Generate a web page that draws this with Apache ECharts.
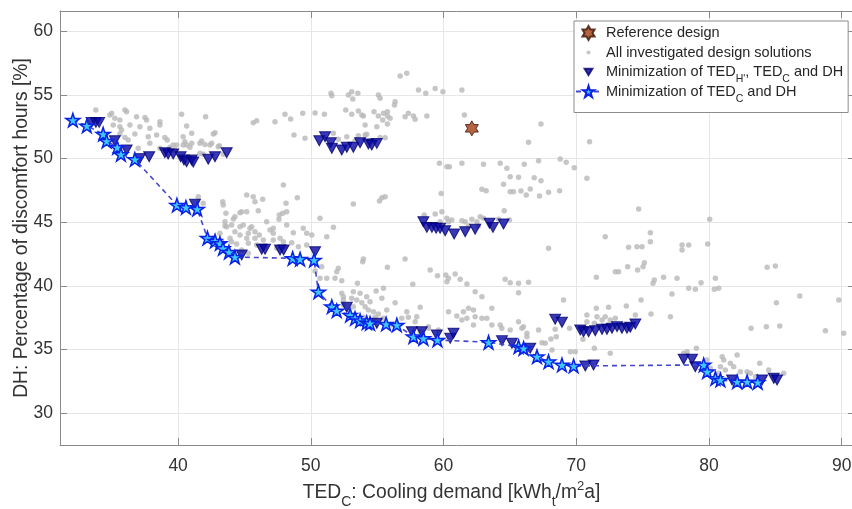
<!DOCTYPE html>
<html><head><meta charset="utf-8">
<script src="https://cdn.jsdelivr.net/npm/echarts@6/dist/echarts.min.js"></script>
<style>html,body{margin:0;padding:0;background:#fff}#c{width:852px;height:509px}</style>
</head><body><div id="c"></div>
<script>
const xTickValues = [40, 50, 60, 70, 80, 90];
const yTickValues = [30, 35, 40, 45, 50, 55, 60];
const xRange = [31.1, 91.0];
const yRange = [27.5, 61.6];

const referenceDesign = [[62.13, 52.38]];

const allSolutions = [
[33.80,53.82],[34.86,53.43],[34.99,53.56],[35.23,53.17],[35.61,53.03],[35.99,53.82],[36.12,53.68],[36.87,53.29],[37.50,53.24],[37.62,53.03],[38.63,52.90],[38.63,52.64],[40.26,53.48],[42.07,53.29],[40.64,52.56],[35.11,52.64],[35.61,52.51],[36.37,52.64],[35.74,52.25],[37.12,52.51],[37.87,52.38],[36.74,51.93],[35.61,51.93],[35.99,51.67],[36.24,51.46],[37.75,51.72],[38.38,51.85],[39.00,51.67],[39.18,51.46],[41.02,51.99],[42.65,51.93],[42.78,52.03],[40.51,51.33],[39.89,51.07],[40.89,50.89],[41.64,51.20],[42.40,51.07],[43.02,50.94],[36.99,50.81],[37.87,51.20],[38.63,50.81],[39.38,50.89],[39.76,50.68],[45.66,52.82],[45.92,52.98],[41.52,47.01],[45.17,47.14],[45.66,47.01],
[40.38,51.72],[40.38,51.07],[40.64,51.07],[41.02,51.20],[39.63,51.07],[41.77,51.38],[42.02,51.12],[42.53,51.20],[43.10,51.01],[41.64,50.42],[41.89,50.34],[43.40,50.34],[47.30,52.90],[48.05,53.48],[48.48,53.11],[49.39,53.56],[48.73,51.85],[49.56,51.60],[50.32,53.58],[51.02,53.48],[51.52,55.13],[51.58,54.94],[52.83,55.00],[53.08,55.26],[53.54,55.13],[53.16,54.68],[52.63,53.82],[53.08,53.48],[53.58,53.74],[53.84,53.43],[54.09,52.64],[51.70,51.99],[52.71,51.72],[53.33,51.38],[53.58,51.80],[54.21,51.91],[54.41,51.38],
[56.73,56.49],[57.23,56.70],[58.11,55.39],[58.66,55.13],[59.37,55.52],[59.95,55.26],[61.38,55.39],[61.57,53.43],[55.09,55.00],[55.22,54.74],[56.35,54.47],[56.30,54.21],[53.96,53.35],[54.76,53.68],[55.09,53.35],[55.47,53.56],[55.77,53.68],[55.77,53.35],[55.97,53.17],[55.42,53.03],[57.10,53.29],[57.35,53.56],[57.73,53.35],[57.86,53.09],[58.74,53.35],[54.97,52.51],[55.77,52.72],[54.09,51.85],[55.22,51.67],[55.60,51.64],[52.07,51.52],[59.69,49.63],[60.25,49.36],[60.44,49.36],[61.38,49.63],[63.01,49.55],[64.27,49.63],[64.77,49.24],
[67.34,52.72],[66.40,51.28],[71.00,51.33],[66.08,49.55],[67.16,49.84],[68.79,49.97],[69.24,49.71],[69.85,49.29],[65.02,48.58],[65.65,48.53],[66.83,48.50],[67.34,48.26],[70.80,48.45],[64.52,47.98],[65.02,47.40],[65.27,47.40],[65.83,47.46],[66.23,47.14],[66.53,47.61],[67.23,47.06],[67.91,47.35],[68.74,47.48],[64.57,45.91],[74.70,46.04],[80.05,45.23],[64.97,45.18],
[62.89,47.59],[63.21,47.48],[59.82,47.27],[55.35,46.93],[55.60,47.01],[55.17,46.67],[53.20,46.43],[51.70,44.60],[58.54,45.57],[59.37,45.65],[59.87,45.83],[60.25,45.31],[60.37,45.04],[60.62,45.18],[61.38,45.12],[61.63,45.04],[62.13,45.23],[62.51,45.04],[62.76,45.44],[63.01,45.31],[64.14,45.23],[59.74,45.04],[61.88,44.71],[62.63,44.71],[53.96,42.11],[57.10,42.11],[67.91,42.95],
[41.89,46.49],[43.36,46.61],[43.40,46.36],[45.79,46.61],[46.37,46.80],[47.93,47.93],[48.13,46.49],[43.60,45.70],[44.66,45.75],[45.17,45.83],[46.04,45.91],[47.88,45.70],[44.16,45.26],[43.53,45.04],[43.53,44.71],[44.03,44.78],[44.91,44.78],[45.54,44.65],[46.67,45.04],[47.60,45.23],[48.18,44.78],[44.28,44.26],[44.66,44.00],[45.29,44.13],[45.79,44.26],[46.12,44.00],[46.92,44.39],[47.17,44.13],[45.17,43.74],[45.79,43.74],[46.42,43.61],[47.17,43.61],[47.68,43.74],[47.93,43.47],[48.56,43.39],[44.03,43.47],[44.41,43.29],[45.29,43.35],[45.92,43.21],[46.55,43.13],[47.43,42.95],[48.05,43.08],[44.79,42.82],[45.29,42.56],[43.15,44.13],[43.66,44.65],[43.91,43.74],[49.06,43.08],
[48.98,46.93],[44.79,45.83],[47.62,45.57],[48.18,45.83],[50.69,45.31],[44.28,45.44],[44.66,44.65],[45.41,44.53],[47.17,44.53],[49.43,44.53],[48.68,44.18],[49.69,44.13],[50.07,44.00],[51.20,43.87],[52.07,41.38],[51.95,41.12],[50.82,41.51],[50.69,40.60],[51.20,40.60],[51.82,40.60],[50.32,41.17],
[49.69,43.21],[53.91,41.90],[55.77,41.46],[52.33,40.41],[53.51,40.21],[54.92,39.60],[55.47,39.81],[57.68,40.13],[58.99,41.25],[59.54,40.80],[60.17,40.86],[60.37,40.60],[60.87,40.94],[61.25,40.52],[60.25,40.33],[61.76,40.15],[64.64,40.52],[65.02,40.25],[65.65,40.21],[66.40,40.28],[65.65,39.47],[62.38,39.55],[62.89,39.15],[52.33,39.42],[53.20,39.55],[53.71,39.42],[54.21,39.15],[55.35,39.03],[54.46,38.76],[52.45,39.15],[53.08,39.03],[53.46,38.89],[53.84,38.68],[54.09,38.37],[54.34,38.11],[54.72,37.97],[55.09,37.79],[55.72,38.11],[56.35,38.68],[57.23,37.97],[57.35,37.53],[58.24,38.32],[57.86,37.19],[58.86,36.80],[60.37,37.97],[61.50,37.97],[61.88,38.24],[62.25,38.11],[62.38,37.58],[62.89,37.46],[63.26,37.46],[63.64,38.24],[64.27,36.93],[64.39,36.67],[65.02,36.54],[65.65,37.19],[65.90,36.67],[66.28,36.28],[63.64,36.93],[62.25,36.93],[61.76,37.46],[61.38,37.32],[61.00,37.64],[52.45,38.89],[52.45,38.50],[53.20,38.37],[53.58,37.46],[53.96,37.53],[54.84,37.53],[55.47,37.46],[56.10,36.93],[56.48,36.80],[58.24,36.40],[58.86,36.67],[59.61,36.54],[56.85,37.46],[57.98,37.58],
[72.18,43.87],[73.94,43.03],[74.57,43.08],[74.95,43.08],[75.58,44.18],[75.58,43.47],[77.97,43.21],[77.97,42.82],[78.47,43.21],[79.90,43.29],[73.87,41.51],[74.62,41.25],[75.03,41.51],[75.13,41.82],[72.94,41.12],[73.19,41.12],[71.51,40.68],[75.78,40.21],[75.88,40.46],[76.58,40.68],[77.59,40.60],[78.47,39.81],[78.97,39.73],[79.40,40.25],[80.48,40.60],[80.40,39.73],[80.73,39.81],[77.21,39.37],[74.88,38.89],[75.63,37.79],[77.09,37.58],[84.38,41.46],[85.00,41.56],[86.84,39.21],[89.78,38.89],[85.08,38.68],[83.17,36.67],[84.32,36.80],[85.33,36.85],[88.77,36.48],[90.15,36.28],[69.04,38.89],[71.51,38.24],[72.43,38.32],[73.77,38.42],[74.45,37.72],[70.80,37.72],[71.56,37.58],[72.18,37.58],[72.56,37.32],[72.94,37.46],[71.36,37.06],[71.94,37.32],[70.80,37.19],[70.43,36.67],[69.49,36.67],[68.41,36.59],[68.49,36.01],[68.09,35.83],[67.41,35.54],[67.16,36.54],[66.02,36.80],[66.28,36.01],[67.66,35.49],[68.17,34.97],[69.55,34.83],[69.92,34.83],[72.56,34.71],[71.36,35.10],[70.50,35.81],[78.09,34.71],[78.35,34.83],[79.05,35.10],[80.99,34.44],[81.11,34.18],[82.12,34.57],[81.61,33.92],[81.86,33.65],[80.86,33.65],[81.23,33.39],[82.37,33.26],[82.87,33.26],[83.12,33.14],[83.82,33.92],[84.50,33.39],[85.63,33.14],[79.85,34.18],[80.10,33.53],[80.73,33.14],[83.50,32.87]
];

const minHeatCoolDH = [
[33.48,52.85],[33.80,52.85],[34.05,52.85],[35.23,51.41],[36.12,50.68],[37.12,50.02],[37.82,50.15],[39.00,50.46],[39.25,50.36],[39.63,50.36],[40.19,50.15],[40.44,49.89],[40.64,49.76],[41.02,49.89],[41.14,49.73],[42.27,49.95],[42.78,50.15],[43.66,50.46],
[50.64,51.41],[51.07,51.72],[51.50,51.25],[51.58,50.81],[52.33,50.68],[52.71,50.89],[53.20,50.89],[53.71,51.25],[54.34,51.15],[54.59,51.07],[54.97,51.20],
[58.48,45.04],[58.74,44.60],[59.12,44.60],[59.44,44.53],[59.74,44.53],[60.12,44.34],[60.80,44.08],[61.63,44.26],[62.38,44.45],[63.46,44.92],[63.72,44.60],[64.52,44.86],
[68.41,37.38],[68.92,37.14],[70.30,36.54],[70.55,36.40],[70.93,36.40],[71.43,36.48],[71.94,36.59],[72.31,36.59],[72.69,36.67],[73.07,36.80],[73.44,36.67],[73.82,36.67],[74.07,36.75],[74.45,37.01],
[41.27,46.41],[44.79,42.43],[46.30,42.88],[46.55,42.88],[47.68,42.82],[47.95,42.82],[50.32,42.69],[52.71,38.32],[54.97,37.06],[57.61,36.40],[58.36,36.40],[59.49,36.14],[60.50,35.88],[60.75,36.28],[64.40,35.70],[65.15,35.49],[66.53,35.10],[70.68,33.71],[71.30,33.79],[78.09,34.24],[78.72,34.24],[78.97,33.65],[81.74,32.61],[84.00,32.61],[84.88,32.74],[85.13,32.61]
];

const minCoolDH = [
[32.07,53.03],[33.12,52.58],[34.35,51.93],[34.61,51.38],[35.41,50.89],[35.69,50.34],[36.74,49.94],[39.91,46.35],[40.59,46.17],[41.44,46.04],[42.21,43.76],[42.78,43.53],[43.15,43.35],[43.38,42.95],[43.83,42.66],[44.28,42.27],[48.63,42.17],[49.19,42.11],[50.24,42.03],[50.57,39.54],[51.58,38.37],[51.95,38.05],[52.96,37.71],[53.33,37.45],[53.71,37.27],[54.21,37.11],[54.46,37.06],[55.67,37.01],[56.48,36.93],[57.73,36.01],[58.48,35.88],[59.54,35.75],[63.39,35.57],[65.65,35.22],[66.03,35.10],[67.04,34.44],[67.91,34.05],[68.92,33.79],[69.80,33.71],[79.60,33.79],[79.86,33.26],[80.48,32.74],[80.86,32.61],[82.12,32.47],[82.87,32.47],[83.67,32.43]
];

const seriesNames = ['Reference design', 'All investigated design solutions', "Minimization of TED_H', TED_C and DH", 'Minimization of TED_C and DH'];
const legendLabels = {
  'Reference design': 'Reference design{sub| }',
  'All investigated design solutions': 'All investigated design solutions{sub| }',
  "Minimization of TED_H', TED_C and DH": "Minimization of TED{sub|H'}, TED{sub|C} and DH",
  'Minimization of TED_C and DH': 'Minimization of TED{sub|C} and DH'
};

const FONT = '"Liberation Sans", Arial, Helvetica, sans-serif';
const TXT = '#262626';
const starPath = 'path://M0,-100L22.45,-30.9L95.1,-30.9L36.3,11.8L58.8,80.9L0,38.2L-58.8,80.9L-36.3,11.8L-95.1,-30.9L-22.45,-30.9Z';
const hexPath = 'path://M0,-100L28.9,-50L86.6,-50L57.7,0L86.6,50L28.9,50L0,100L-28.9,50L-86.6,50L-57.7,0L-86.6,-50L-28.9,-50Z';
const dotIcon = 'path://M0,0M20,20M10,7L12.1,7.9L13,10L12.1,12.1L10,13L7.9,12.1L7,10L7.9,7.9Z';
const triIcon = 'path://M0,0M20,20M4.5,5.5L15.5,5.5L10,14.5Z';

const chart = echarts.init(document.getElementById('c'), null, {renderer: 'canvas'});

const axisCommon = {
  type: 'value',
  nameMoveOverlap: false,
  axisLine: {show: true, onZero: false, lineStyle: {color: '#8a8a8a', width: 1}},
  axisTick: {show: true, inside: true, length: 7, lineStyle: {color: '#8a8a8a'}},
  splitLine: {show: false}
};

chart.setOption({
  animation: false,
  backgroundColor: '#ffffff',
  grid: {left: 60, top: 11, right: -3, bottom: 64, containLabel: false, outerBoundsMode: 'none'},
  xAxis: [
    Object.assign({}, axisCommon, {
      position: 'bottom', min: xRange[0], max: xRange[1],
      axisTick: {show: true, inside: true, length: 7, lineStyle: {color: '#8a8a8a'}, customValues: xTickValues},
      axisLabel: {customValues: xTickValues, margin: 12, color: '#333', fontSize: 17.5, fontFamily: FONT},
      splitLine: {show: true, lineStyle: {color: '#e6e6e6', width: 1}},
      name: 'TED{sub|C}: Cooling demand [kWh{sub|t}/m{sup|2}a]',
      nameLocation: 'middle', nameGap: 36,
      nameTextStyle: {
        fontSize: 19.3, fontFamily: FONT, color: '#333', lineHeight: 24, padding: [0, 12, 0, 0],
        rich: {
          sub: {fontSize: 14, fontFamily: FONT, color: '#333', lineHeight: 24, padding: [9, 0, -9, 0]},
          sup: {fontSize: 13, fontFamily: FONT, color: '#333', lineHeight: 24, padding: [-7, 0, 7, 0]}
        }
      }
    }),
    Object.assign({}, axisCommon, {
      position: 'top', min: xRange[0], max: xRange[1],
      axisTick: {show: true, inside: true, length: 7, lineStyle: {color: '#8a8a8a'}, customValues: xTickValues},
      axisLabel: {show: false}
    })
  ],
  yAxis: [
    Object.assign({}, axisCommon, {
      position: 'left', min: yRange[0], max: yRange[1],
      axisTick: {show: true, inside: true, length: 7, lineStyle: {color: '#8a8a8a'}, customValues: yTickValues},
      axisLabel: {customValues: yTickValues, margin: 7, color: '#333', fontSize: 17.5, fontFamily: FONT},
      splitLine: {show: true, lineStyle: {color: '#e6e6e6', width: 1}},
      name: 'DH: Percentage of discomfort hours [%]',
      nameLocation: 'middle', nameGap: 29,
      nameTextStyle: {fontSize: 19.3, fontFamily: FONT, color: '#333'}
    }),
    Object.assign({}, axisCommon, {
      position: 'right', min: yRange[0], max: yRange[1],
      axisTick: {show: true, inside: true, length: 7, lineStyle: {color: '#8a8a8a'}, customValues: yTickValues},
      axisLabel: {show: false}
    })
  ],
  legend: {
    orient: 'vertical', left: 574, top: 21,
    padding: [2.5, 5, 8, 1], itemGap: -3.0, itemWidth: 25, itemHeight: 14,
    backgroundColor: '#ffffff', borderColor: '#8c8c8c', borderWidth: 1,
    selectedMode: false,
    textStyle: {
      fontSize: 14.5, fontFamily: FONT, color: TXT, lineHeight: 19,
      rich: {sub: {fontSize: 10.5, fontFamily: FONT, color: TXT, lineHeight: 19, padding: [7.5, 0, -7.5, 0]}}
    },
    formatter: function (n) { return legendLabels[n]; },
    data: [
      {name: seriesNames[0], icon: hexPath},
      {name: seriesNames[1], icon: dotIcon},
      {name: seriesNames[2], icon: triIcon},
      {name: seriesNames[3]}
    ]
  },
  series: [
    {
      name: seriesNames[1], type: 'scatter', data: allSolutions,
      symbol: 'circle', symbolSize: 5.5,
      itemStyle: {color: '#b8b8b8'}, z: 2
    },
    {
      name: seriesNames[2], type: 'scatter', data: minHeatCoolDH,
      symbol: 'triangle', symbolRotate: 180, symbolSize: [11, 10],
      itemStyle: {color: '#0606a4', borderColor: '#000070', borderWidth: 1}, z: 3
    },
    {
      name: seriesNames[3], type: 'line', data: minCoolDH,
      symbol: starPath, symbolSize: 14, symbolKeepAspect: true, showSymbol: true, showAllSymbol: true,
      itemStyle: {color: '#3ec6ff', borderColor: '#0a22e6', borderWidth: 1.5},
      lineStyle: {color: '#4646cf', width: 1.6, type: [5, 4]}, z: 4
    },
    {
      name: seriesNames[0], type: 'scatter', data: referenceDesign,
      symbol: hexPath, symbolSize: 15, symbolKeepAspect: true,
      itemStyle: {color: '#a43c12', borderColor: '#3a1406', borderWidth: 1}, z: 5
    }
  ]
});
</script></body></html>
